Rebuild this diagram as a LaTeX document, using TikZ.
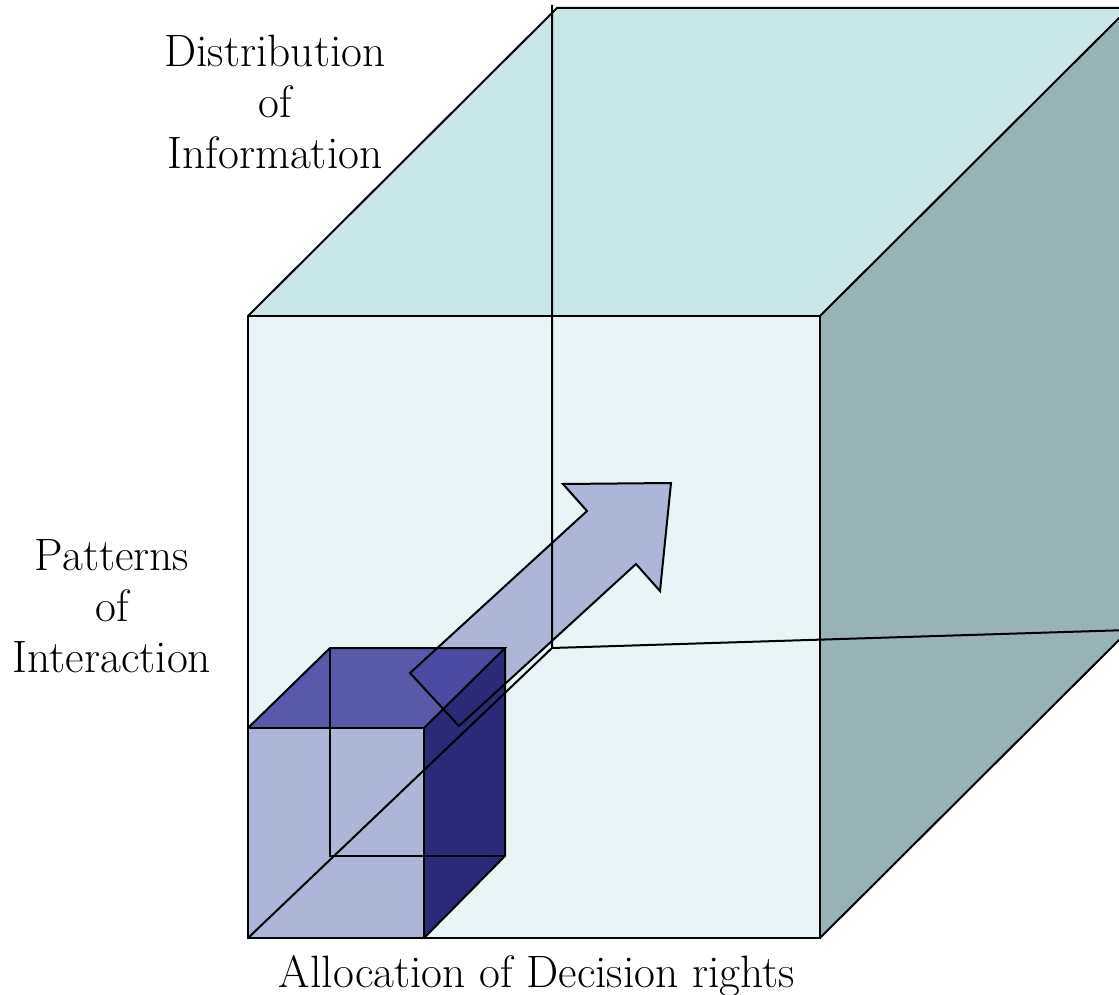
\documentclass[tikz,border=0pt]{standalone}
\definecolor{bigfront}{HTML}{E8F4F5}
\definecolor{bigtop}{HTML}{C9E6E8}
\definecolor{bigright}{HTML}{97B3B6}
\definecolor{smallfront}{HTML}{AEB6D8}
\definecolor{smalltop}{HTML}{302E93}
\definecolor{smallright}{HTML}{2A2A78}
\definecolor{arrowfill}{HTML}{AEB6D8}
\begin{document}
\begin{tikzpicture}[x=0.5pt,y=-0.5pt,
  edge/.style={draw=black,line width=1pt,line join=miter},
  lbl/.style={font=\fontsize{22.7}{25.5}\selectfont,align=center,inner sep=0pt}]
\useasboundingbox (0,0) rectangle (1119,995);
% big cube corners
\coordinate (F1) at (248,316);
\coordinate (F2) at (820,316);
\coordinate (F3) at (820,938);
\coordinate (F4) at (248,938);
\coordinate (B1) at (557,8);
\coordinate (B2) at (1129,8);
\coordinate (B3) at (1129,630);
\coordinate (B4) at (552,648);
\coordinate (Bv) at (552,5);
% small cube corners
\coordinate (s1) at (248,728);
\coordinate (s2) at (424,728);
\coordinate (s3) at (424,938);
\coordinate (t1) at (330,648);
\coordinate (t2) at (505,648);
\coordinate (t3) at (505,856);
\coordinate (t4) at (330,856);
% arrow
\coordinate (a1) at (410,673);
\coordinate (a2) at (587,511);
\coordinate (a3) at (563,484);
\coordinate (a4) at (671,483);
\coordinate (a5) at (660,591);
\coordinate (a6) at (636,564);
\coordinate (a7) at (459,726);
\begin{scope}
\clip (0,0) rectangle (1119,995);
% fills
\fill[bigtop] (F1) -- (B1) -- (B2) -- (F2) -- cycle;
\fill[bigright] (F2) -- (B2) -- (B3) -- (F3) -- cycle;
\fill[bigfront] (F1) rectangle (F3);
\fill[arrowfill] (a1) -- (a2) -- (a3) -- (a4) -- (a5) -- (a6) -- (a7) -- cycle;
\fill[smallfront] (s1) rectangle (s3);
\fill[smalltop,opacity=0.78] (s1) -- (t1) -- (t2) -- (s2) -- cycle;
\fill[smallright] (s2) -- (t2) -- (t3) -- (s3) -- cycle;
% big cube edges
\draw[edge] (F1) -- (B1) -- (B2);
\draw[edge] (F2) -- (B2);
\draw[edge] (F1) rectangle (F3);
\draw[edge] (F3) -- (B3);
\draw[edge] (Bv) -- (B4) -- (B3);
\draw[edge] (F4) -- (B4);
% arrow outline
\draw[edge] (a1) -- (a2) -- (a3) -- (a4) -- (a5) -- (a6) -- (a7) -- cycle;
% small cube edges
\draw[edge] (s1) rectangle (s3);
\draw[edge] (s1) -- (t1) -- (t2) -- (s2);
\draw[edge] (t2) -- (t3) -- (s3);
\draw[edge] (t1) -- (t4) -- (t3);
\end{scope}
% labels
\node[lbl] (dist) at (275,102) {Distribution\\of\\Information};
\node[lbl] (patt) at (112,606) {Patterns\\of\\Interaction};
\node[lbl,anchor=base] (alloc) at (537,987) {Allocation of Decision rights};
\end{tikzpicture}
\end{document}
